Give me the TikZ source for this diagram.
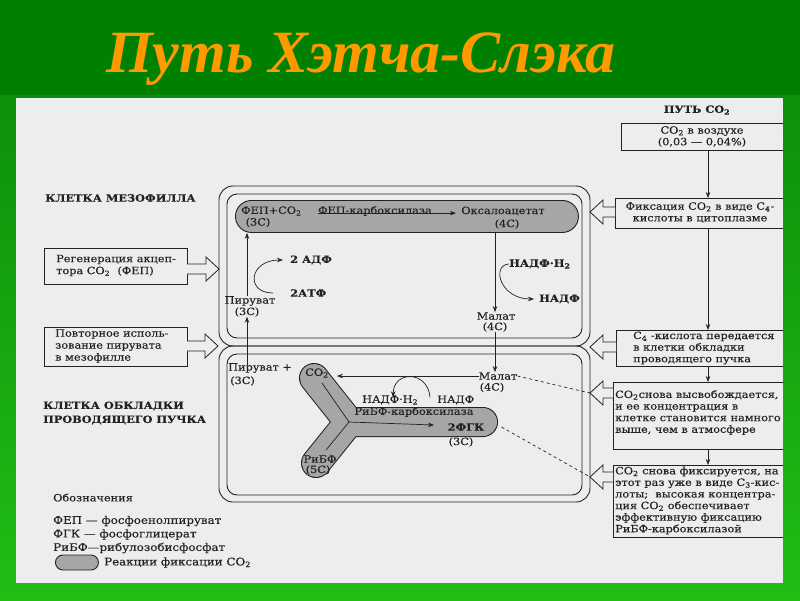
\documentclass[tikz,border=0pt]{standalone}
\usepackage{fontspec}
\setmainfont{DejaVu Serif}[FakeStretch=1.13, FakeBold=0.3]
\newfontfamily\titlefont{Liberation Serif}
\usetikzlibrary{arrows.meta}
\newcommand{\sbx}[1]{\textsubscript{#1}}
\definecolor{bgA}{HTML}{008000}
\definecolor{bgB}{HTML}{0C900C}
\definecolor{bgC}{HTML}{22BE14}
\definecolor{paper}{HTML}{ECEDEF}
\definecolor{ink}{HTML}{222222}
\definecolor{gry}{HTML}{A6A6A6}
\definecolor{ttl}{HTML}{FF9900}
\newcommand{\harrowR}[3]{\draw[hollow] (#1,#3-5) -- (#2-13,#3-5) -- (#2-13,#3-12) -- (#2,#3) -- (#2-13,#3+12) -- (#2-13,#3+5) -- (#1,#3+5);}
\newcommand{\harrowL}[3]{\draw[hollow] (#1,#3-5) -- (#2+13,#3-5) -- (#2+13,#3-12) -- (#2,#3) -- (#2+13,#3+12) -- (#2+13,#3+5) -- (#1,#3+5);}
\begin{document}
\begin{tikzpicture}[x=1pt,y=-1pt,
  wall/.style={draw=ink, line width=0.9pt},
  box/.style={draw=ink, line width=0.7pt, inner sep=0pt},
  txt/.style={inner sep=0pt, text=ink, font=\fontsize{10}{12}\selectfont},
  rtxt/.style={inner sep=0pt, text=ink, font=\fontsize{10}{11.6}\selectfont},
  hd/.style={inner sep=0pt, text=ink, font=\fontsize{10}{14}\selectfont\bfseries},
  lgd/.style={inner sep=0pt, text=ink, font=\fontsize{10.5}{12}\selectfont, anchor=west},
  conn/.style={draw=ink, line width=0.7pt, -{Stealth[length=6pt,width=4.5pt]}},
  hollow/.style={draw=ink, line width=0.8pt, fill=paper, line join=miter},
  react/.style={fill=gry, draw=ink, line width=0.9pt, inner sep=0pt}]
\useasboundingbox (0,0) rectangle (800,600);
\fill[bgA] (0,0) rectangle (800,600);
\shade[top color=bgB, bottom color=bgC] (0,95) rectangle (800,600);
\node[anchor=base west, inner sep=0pt, text=ttl] (title) at (106,72)
  {\titlefont\fontsize{60}{62}\selectfont\bfseries\itshape Путь Хэтча-Слэка};
\fill[paper] (16,98) rectangle (783,583);
\begin{scope}
\clip (16,98) rectangle (783,583);
% cells
\draw[wall, rounded corners=14] (219,186) rectangle (590,346);
\draw[wall, rounded corners=14] (219,346) rectangle (590,502);
\draw[wall, rounded corners=10] (227,194) rectangle (582,338);
\draw[wall, rounded corners=10] (227,354) rectangle (582,495);
% headings
\node[hd, anchor=west] (h1) at (45,198) {КЛЕТКА МЕЗОФИЛЛА};
\node[hd, anchor=west, align=left] (h2) at (43,413) {КЛЕТКА ОБКЛАДКИ\\ПРОВОДЯЩЕГО ПУЧКА};
% left boxes
\node[box, minimum width=143, minimum height=36, anchor=north west] (regen) at (44,248) {};
\node[txt, anchor=west, align=left] (regent) at (56,265.5) {Регенерация акцеп-\\тора CO\sbx{2}\ \ (ФЕП)};
\node[box, minimum width=143, minimum height=39, anchor=north west] (reuse) at (44,327) {};
\node[txt, anchor=west, align=left] (reuset) at (55,346) {Повторное исполь-\\зование пирувата\\ в мезофилле};
\harrowR{187}{219}{269}
\harrowR{187}{218}{346}
% right column
\node[txt, font=\fontsize{10}{12}\selectfont\bfseries] (path) at (697,110) {ПУТЬ CO\sbx{2}};
\node[box, minimum width=180, minimum height=27, anchor=north west] (air) at (621,123) {};
\node[rtxt, align=center] (airt) at (702,136.5) {CO\sbx{2} в воздухе\\(0,03 — 0,04\%)};
\node[box, minimum width=185, minimum height=30, anchor=north west] (fix) at (615,198) {};
\node[rtxt, align=center] (fixt) at (700,212.5) {Фиксация CO\sbx{2} в виде C\sbx{4}-\\кислоты в цитоплазме};
\node[box, minimum width=185, minimum height=36, anchor=north west] (c4) at (616,330) {};
\node[rtxt, align=left, anchor=west] (c4t) at (633,348) {C\sbx{4} -кислота передается\\в клетки обкладки\\проводящего пучка};
\node[box, minimum width=190, minimum height=67, anchor=north west] (rel) at (613,382) {};
\node[rtxt, align=left, anchor=west] (relt) at (615,412.5) {CO\sbx{2}снова высвобождается,\\и ее концентрация в\\клетке становится намного\\выше, чем в атмосфере};
\node[box, minimum width=190, minimum height=72, anchor=north west] (refix) at (613,465) {};
\node[rtxt, align=left, anchor=west] (refixt) at (615,500.5) {CO\sbx{2} снова фиксируется, на\\этот раз уже в виде C\sbx{3}-кис-\\лоты;\ \ высокая концентра-\\ция CO\sbx{2} обеспечивает\\эффективную фиксацию\\РиБФ-карбоксилазой};
\coordinate (vx) at (708,0);
\draw[conn] (air.south -| vx) -- (fix.north -| vx);
\draw[conn] (fix.south -| vx) -- (c4.north -| vx);
\draw[conn] (c4.south -| vx) -- (rel.north -| vx);
\draw[conn] (rel.south -| vx) -- (refix.north -| vx);
\harrowL{615}{590}{212}
\harrowL{616}{590}{347}
\harrowL{613}{590}{393}
\harrowL{613}{590}{477}
% upper cell content
\node[react, rounded corners=16, minimum width=343, minimum height=32, anchor=north west] (band) at (235,200) {};
\node[txt, anchor=west] (pep) at (241,211) {ФЕП+CO\sbx{2}};
\node[txt] (pep3) at (258,222.5) {(3С)};
\node[txt] (pepc) at (375,211) {ФЕП-карбоксилаза};
\node[txt] (oaa) at (503,211) {Оксалоацетат};
\node[txt] (oaa4) at (507,224) {(4С)};
\draw[conn] ([yshift=3]pepc.south west) -- ++(138,0);
\node[txt] (pyr1) at (250,301) {Пируват};
\node[txt] (pyr1c) at (247,312) {(3С)};
\draw[conn] (pyr1.north -| pyr1c) -- (pyr1c |- band.south);
\node[txt, anchor=west, font=\fontsize{10}{12}\selectfont\bfseries] (adp) at (290,260) {2 АДФ};
\node[txt, anchor=west, font=\fontsize{10}{12}\selectfont\bfseries] (atp) at (290,293) {2АТФ};
\draw[conn] ([xshift=-17]atp.west) .. controls +(-28,0) and +(-34,0) .. ([xshift=-7]adp.west);
\node[txt] (mal1) at (496,316) {Малат};
\node[txt] (mal1c) at (495,327) {(4С)};
\draw[conn] (band.south -| mal1c) -- (mal1.north -| mal1c);
\node[txt, anchor=west, font=\fontsize{10}{12}\selectfont\bfseries] (nadph) at (509,264) {НАДФ·Н\sbx{2}};
\node[txt, anchor=west, font=\fontsize{10}{12}\selectfont\bfseries] (nadp) at (539,299) {НАДФ};
\draw[conn] (nadph.west) .. controls +(-18,1) and +(-34,0) .. ([xshift=-5]nadp.west);
% lower cell content
\node[txt, anchor=west] (pyr2) at (228,368) {Пируват +};
\node[txt, anchor=west] (pyr2c) at (230,381) {(3С)};
\draw[conn] ([yshift=-2]pyr2.north -| pyr1c) -- (pyr1c.south);
\node[txt] (mal2) at (498,376) {Малат};
\node[txt] (mal2c) at (492,387.5) {(4С)};
\draw[conn] (mal1c.south) -- (mal1c.south |- mal2.north);
% Y-shaped reaction zone
\coordinate (yc) at (349,422);
\coordinate (yu) at (314,378);
\coordinate (yl) at (316,463);
\coordinate (yr) at (483,422);
\draw[ink, line width=30pt, line cap=round, line join=round] (yu) -- (yc) -- (yr) (yc) -- (yl);
\draw[gry, line width=28pt, line cap=round, line join=round] (yu) -- (yc) -- (yr) (yc) -- (yl);
\draw[ink, line width=0.7pt] (322,383) -- (yc) -- (326,450);
\draw[conn] (yc) -- (434,425);
\node[txt] (co2) at (317,373) {CO\sbx{2}};
\node[txt] (ribf) at (320,459) {РиБФ};
\node[txt] (ribf5) at (318,470) {(5С)};
\node[txt] (rubisco) at (414,412) {РиБФ-карбоксилаза};
\node[txt, font=\fontsize{10}{12}\selectfont\bfseries] (pga) at (466,427) {2ФГК};
\node[txt] (pga3) at (461,442) {(3С)};
\node[txt, anchor=west] (nadph2) at (362,400) {НАДФ·Н\sbx{2}};
\node[txt, anchor=west] (nadp2) at (437,400) {НАДФ};
\draw[conn] (mal2.west) -- ([xshift=8]co2.east |- mal2.west);
\draw[conn] ([xshift=-7,yshift=-2]nadp2.north west) .. controls +(-2,-27) and +(0,-27) .. ([xshift=3,yshift=-2]nadph2.north);
\draw[ink, line width=0.7pt, dashed] (mal2.east) -- (590,393);
\draw[ink, line width=0.7pt, dashed] ([xshift=17]pga.east) -- (590,477);
% legend
\node[lgd, font=\fontsize{10}{12}\selectfont] (lg) at (53,497.5) {Обозначения};
\node[lgd] (lg1) at (53,521) {ФЕП — фосфоенолпируват};
\node[lgd] (lg2) at (53,534.5) {ФГК — фосфоглицерат};
\node[lgd] (lg3) at (53,548) {РиБФ—рибулозобисфосфат};
\node[react, rounded corners=7.5, minimum width=43, minimum height=15, anchor=west] (lgp) at (55,562.5) {};
\node[lgd] (lg4) at (104,562.5) {Реакции фиксации CO\sbx{2}};
\end{scope}
\end{tikzpicture}
\end{document}
